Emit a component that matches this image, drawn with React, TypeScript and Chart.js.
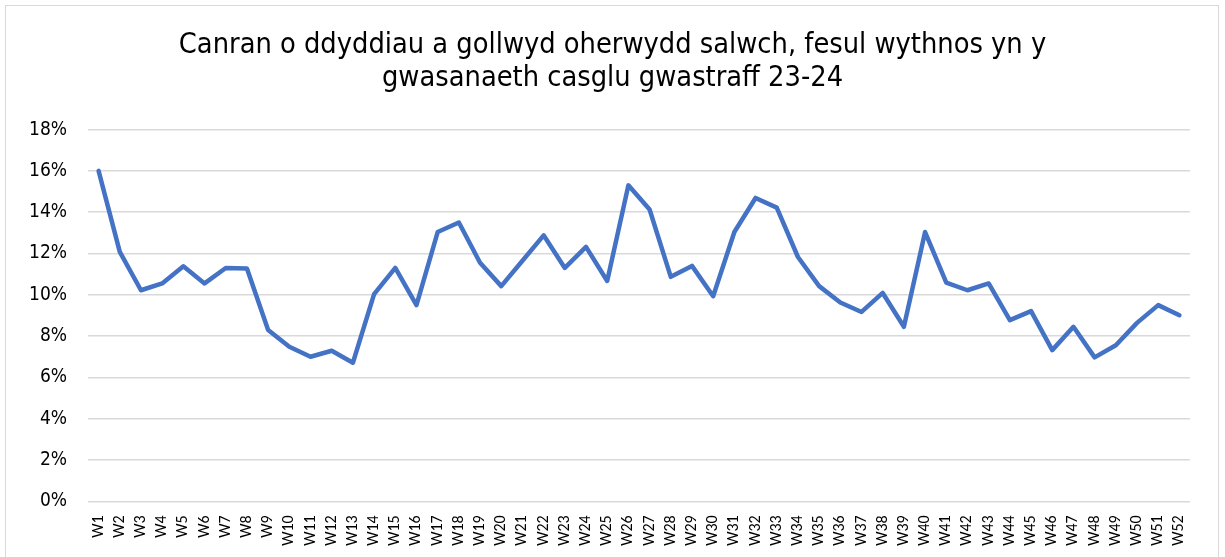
import React, { useEffect, useRef } from "react";
import { Chart, registerables } from "chart.js";

Chart.register(...registerables);

const weeks: string[] = [
  "W1", "W2", "W3", "W4", "W5", "W6", "W7", "W8", "W9", "W10",
  "W11", "W12", "W13", "W14", "W15", "W16", "W17", "W18", "W19", "W20",
  "W21", "W22", "W23", "W24", "W25", "W26", "W27", "W28", "W29", "W30",
  "W31", "W32", "W33", "W34", "W35", "W36", "W37", "W38", "W39", "W40",
  "W41", "W42", "W43", "W44", "W45", "W46", "W47", "W48", "W49", "W50",
  "W51", "W52",
];

const sicknessPct: number[] = [
  16.0, 12.08, 10.22, 10.55, 11.38, 10.55, 11.3, 11.27, 8.29, 7.48,
  7.0, 7.29, 6.71, 10.03, 11.3, 9.5, 13.04, 13.5, 11.55, 10.42,
  11.65, 12.88, 11.3, 12.32, 10.67, 15.3, 14.13, 10.87, 11.4, 9.93,
  13.04, 14.69, 14.22, 11.83, 10.42, 9.63, 9.17, 10.09, 8.45, 13.04,
  10.59, 10.22, 10.55, 8.77, 9.21, 7.32, 8.45, 6.97, 7.56, 8.64,
  9.5, 9.01,
];

const titleLines: string[] = [
  "Canran o ddyddiau a gollwyd oherwydd salwch, fesul wythnos yn y",
  "gwasanaeth casglu gwastraff 23-24",
];

const TITLE_FONT = "Tahoma, 'DejaVu Sans Condensed', 'DejaVu Sans', sans-serif";
const TICK_FONT_X = "Calibri, Carlito, Lato, 'Open Sans', sans-serif";

export default function App() {
  const canvasRef = useRef<HTMLCanvasElement | null>(null);

  useEffect(() => {
    if (!canvasRef.current) return;
    const chart = new Chart(canvasRef.current, {
      type: "line",
      data: {
        labels: weeks,
        datasets: [
          {
            data: sicknessPct,
            yAxisID: "y",
            borderColor: "#4472C4",
            backgroundColor: "#4472C4",
            borderWidth: 4.5,
            pointRadius: 0,
            pointHoverRadius: 0,
            borderCapStyle: "round",
            borderJoinStyle: "round",
            tension: 0,
            fill: false,
          },
        ],
      },
      options: {
        animation: false,
        responsive: false,
        maintainAspectRatio: false,
        layout: { padding: 0 },
        plugins: {
          legend: { display: false },
          tooltip: { enabled: false },
          title: {
            display: true,
            text: titleLines,
            color: "#000000",
            font: { family: TITLE_FONT, size: 28.7, weight: "normal", lineHeight: 1.16 },
            padding: { top: 29, bottom: 34 },
          },
        },
        scales: {
          x: {
            offset: true,
            grid: { display: false, drawTicks: false },
            border: { display: false },
            ticks: {
              autoSkip: false,
              minRotation: 90,
              maxRotation: 90,
              padding: 14,
              color: "#000000",
              font: { family: TICK_FONT_X, size: 16 },
            },
            afterFit: (scale: any) => {
              scale.height = 55.7;
            },
          },
          y: {
            position: "left",
            min: 0,
            max: 18,
            grid: { color: "#d9d9d9", lineWidth: 1.5, drawTicks: false },
            border: { display: false },
            ticks: {
              stepSize: 2,
              padding: 21,
              color: "#000000",
              font: { family: TITLE_FONT, size: 19 },
              callback: (v: any) => `${v}%`,
            },
            afterFit: (scale: any) => {
              scale.width = 88;
            },
          },
          y2: {
            position: "right",
            min: 0,
            max: 18,
            grid: { display: false, drawTicks: false },
            border: { display: false },
            ticks: { display: false },
            afterFit: (scale: any) => {
              scale.width = 35;
            },
          },
        },
      },
    });
    return () => chart.destroy();
  }, []);

  return (
    <div style={{ position: "absolute", left: 0, top: 0, width: 1225, height: 557, background: "#ffffff" }}>
      <div
        style={{
          position: "absolute",
          left: 5,
          top: 5,
          width: 1214,
          height: 560,
          border: "1px solid #d9d9d9",
          boxSizing: "border-box",
        }}
      />
      <canvas
        ref={canvasRef}
        width={1225}
        height={557}
        style={{ position: "absolute", left: 0, top: 0, width: 1225, height: 557 }}
      />
    </div>
  );
}
